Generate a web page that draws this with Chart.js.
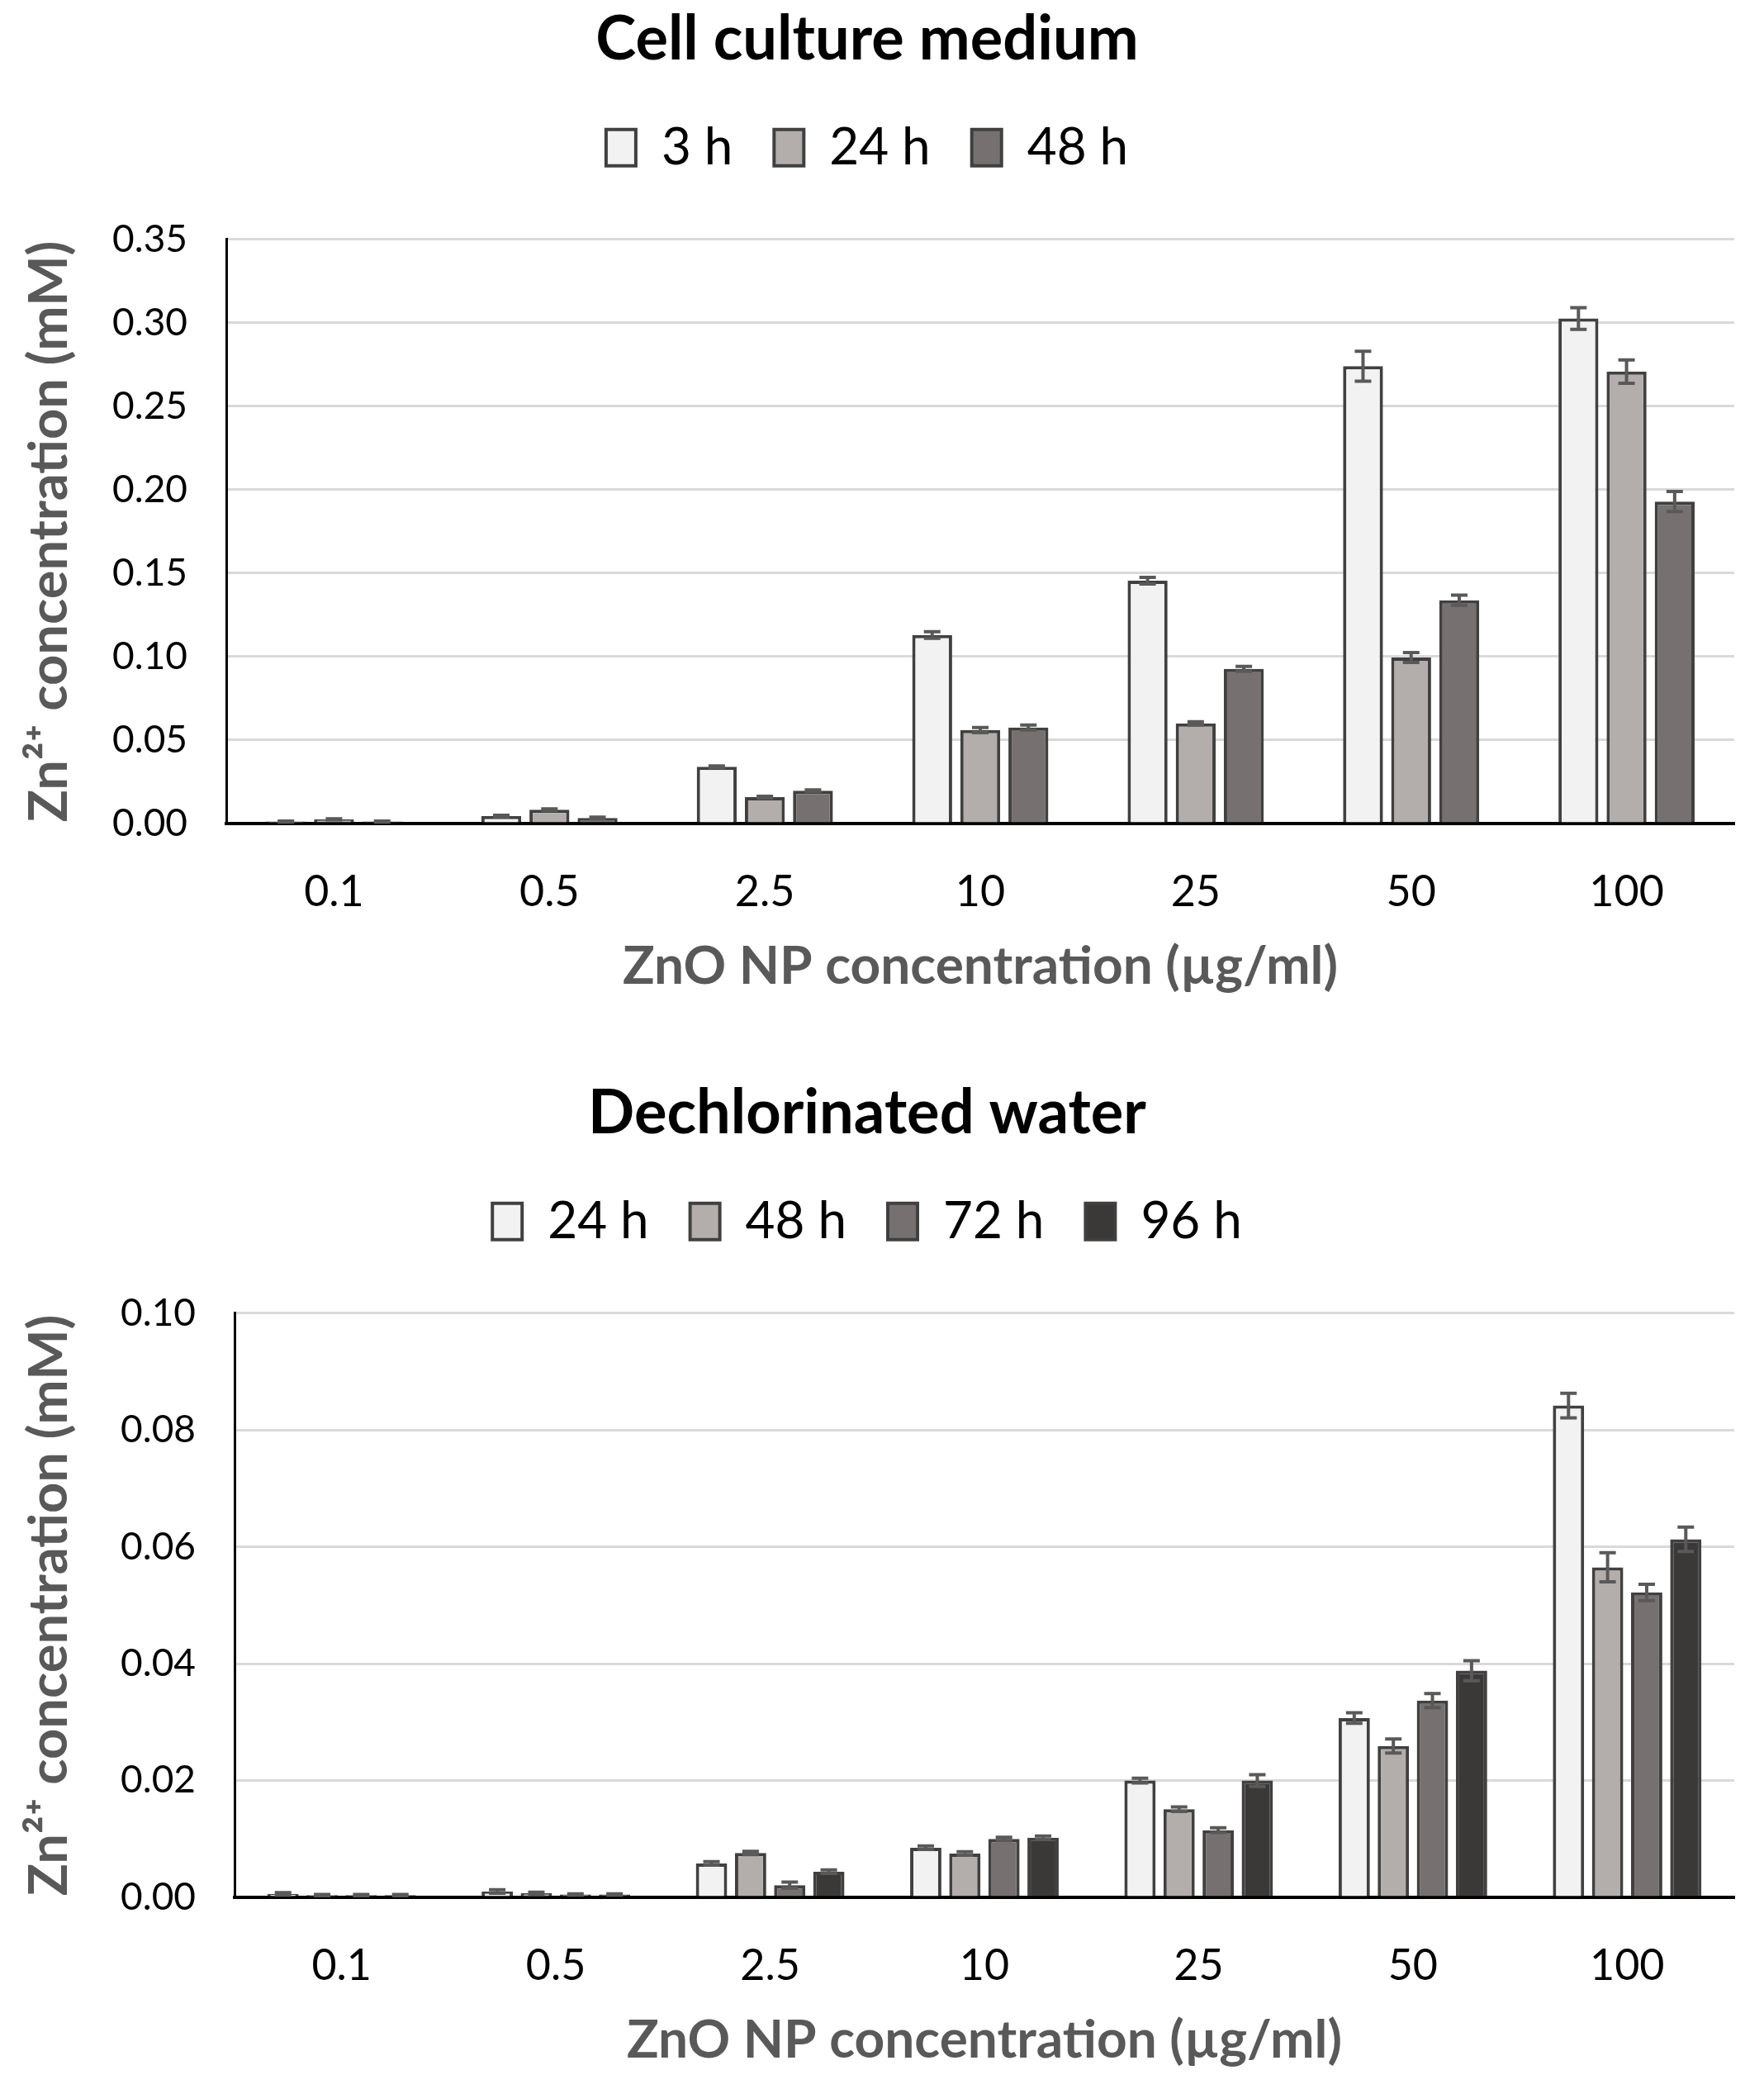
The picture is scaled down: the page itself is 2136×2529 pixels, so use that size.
<!DOCTYPE html>
<html>
<head>
<meta charset="utf-8">
<script src="https://cdn.jsdelivr.net/npm/chart.js@4.4.1/dist/chart.umd.min.js"></script>
<style>
  html, body { margin: 0; padding: 0; background: #fff; }
  #wrap { position: relative; width: 2136px; height: 2529px; }
  canvas { position: absolute; left: 0; }
</style>
</head>
<body>
<div id="wrap">
  <canvas id="mediumChart" width="2136" height="1229" style="top:0"></canvas>
  <canvas id="waterChart" width="2136" height="1229" style="top:1300px"></canvas>
</div>
<script>
// categories (ZnO NP concentration, ug/ml)
const concLabels = ['0.1', '0.5', '2.5', '10', '25', '50', '100'];

// Cell culture medium
const medium3h = [0.0012, 0.0045, 0.034, 0.113, 0.1455, 0.274, 0.3026];
const medium24h = [0.0025, 0.0083, 0.0158, 0.056, 0.060, 0.0995, 0.2708];
const medium48h = [0.0012, 0.0033, 0.0197, 0.0575, 0.0927, 0.1338, 0.1929];
const medium3hErr = [0.0003, 0.0005, 0.0005, 0.002, 0.002, 0.009, 0.0065];
const medium24hErr = [0.0003, 0.0005, 0.0005, 0.0015, 0.001, 0.003, 0.007];
const medium48hErr = [0.0003, 0.0005, 0.0005, 0.0015, 0.0015, 0.003, 0.006];
const mediumTicks = [0, 0.35, 0.05];

// Dechlorinated water
const water24h = [0.0006, 0.001, 0.0058, 0.0085, 0.020, 0.0307, 0.0842];
const water48h = [0.0004, 0.0007, 0.0076, 0.0075, 0.0151, 0.0259, 0.0565];
const water72h = [0.0004, 0.0005, 0.0021, 0.010, 0.0115, 0.0337, 0.0522];
const water96h = [0.0004, 0.0005, 0.0044, 0.0102, 0.0200, 0.0388, 0.0613];
const water24hErr = [0.0002, 0.0003, 0.0003, 0.0003, 0.0004, 0.0009, 0.0021];
const water48hErr = [0.0001, 0.0002, 0.0003, 0.0003, 0.0004, 0.0012, 0.0025];
const water72hErr = [0.0001, 0.0001, 0.0005, 0.0003, 0.0004, 0.0012, 0.0014];
const water96hErr = [0.0001, 0.0001, 0.0003, 0.0003, 0.0010, 0.0017, 0.0021];
const waterTicks = [0, 0.10, 0.02];

const C_LIGHT = '#F2F2F2', C_MID = '#B3AEAC', C_DARK = '#767170', C_DARKEST = '#3B3838';

Chart.defaults.font.family = 'Lato, "Open Sans", sans-serif';
Chart.defaults.color = '#000';

// error bars drawn from the y scale
const errorBars = {
    id: 'errorBars',
    afterDatasetsDraw(chart) {
        const ctx = chart.ctx;
        const y = chart.scales.y;
        ctx.save();
        ctx.strokeStyle = '#595959';
        ctx.lineWidth = 4;
        chart.data.datasets.forEach((ds, i) => {
            const meta = chart.getDatasetMeta(i);
            meta.data.forEach((bar, j) => {
                const v = ds.data[j], e = ds.errors[j];
                const top = y.getPixelForValue(v + e);
                const bot = y.getPixelForValue(v - e);
                ctx.beginPath();
                ctx.moveTo(bar.x, top); ctx.lineTo(bar.x, bot);
                ctx.moveTo(bar.x - 10, top); ctx.lineTo(bar.x + 10, top);
                ctx.moveTo(bar.x - 10, bot); ctx.lineTo(bar.x + 10, bot);
                ctx.stroke();
            });
        });
        ctx.restore();
    }
};

// fixed legend height so the plot starts at the right place
const legendHeight = {
    id: 'legendHeight',
    beforeInit(chart) {
        const fit = chart.legend.fit;
        chart.legend.fit = function() {
            fit.bind(chart.legend)();
            this.height = chart.options.legendBoxHeight;
        };
    }
};

function makeDataset(label, data, errors, color) {
    return {
        label: label,
        data: data,
        errors: errors,
        backgroundColor: color,
        borderColor: '#404040',
        borderWidth: 4
    };
}

function renderChart(canvasId, title, datasets, ticks, axisLeft, catPct, barPct) {
    const ctx = document.getElementById(canvasId);
    new Chart(ctx, {
        type: 'bar',
        data: { labels: concLabels, datasets: datasets },
        plugins: [errorBars, legendHeight],
        options: {
            responsive: false,
            animation: false,
            legendBoxHeight: 192,
            datasets: { bar: { categoryPercentage: catPct, barPercentage: barPct } },
            layout: { padding: { left: 0, right: 2136 - 2100, top: 0, bottom: 0 } },
            plugins: {
                tooltip: { enabled: false },
                title: {
                    display: true,
                    text: title,
                    color: '#000',
                    font: { size: 74, weight: 'bold' },
                    padding: { top: 4, bottom: 5 }
                },
                legend: {
                    display: true,
                    labels: {
                        boxWidth: 36,
                        boxHeight: 44,
                        padding: 50,
                        color: '#000',
                        font: { size: 62 }
                    }
                }
            },
            scales: {
                x: {
                    grid: { display: false },
                    border: { display: true, color: '#000', width: 4 },
                    ticks: { font: { size: 52 }, color: '#000', padding: 44 },
                    title: {
                        display: true,
                        text: 'ZnO NP concentration (µg/ml)',
                        color: '#595959',
                        font: { size: 64, weight: 'bold' },
                        padding: { top: 10, bottom: 20 }
                    },
                    afterFit(scale) { scale.height = 232; }
                },
                y: {
                    min: ticks[0],
                    max: ticks[1],
                    ticks: {
                        stepSize: ticks[2],
                        font: { size: 46 },
                        color: '#000',
                        padding: 47,
                        callback: v => v.toFixed(2)
                    },
                    grid: { color: '#D9D9D9', lineWidth: 3, drawTicks: false },
                    border: { display: true, color: '#000', width: 3 },
                    title: {
                        display: true,
                        text: 'Zn²⁺ concentration (mM)',
                        color: '#595959',
                        font: { size: 65, weight: 'bold' },
                        padding: { top: 21, bottom: 0 }
                    },
                    afterFit(scale) { scale.width = axisLeft; }
                }
            }
        }
    });
}

renderChart('mediumChart', 'Cell culture medium', [
    makeDataset('3 h', medium3h, medium3hErr, C_LIGHT),
    makeDataset('24 h', medium24h, medium24hErr, C_MID),
    makeDataset('48 h', medium48h, medium48hErr, C_DARK)
], mediumTicks, 274, 0.67, 0.83);

renderChart('waterChart', 'Dechlorinated water', [
    makeDataset('24 h', water24h, water24hErr, C_LIGHT),
    makeDataset('48 h', water48h, water48hErr, C_MID),
    makeDataset('72 h', water72h, water72hErr, C_DARK),
    makeDataset('96 h', water96h, water96hErr, C_DARKEST)
], waterTicks, 284, 0.73, 0.8);
</script>
</body>
</html>
